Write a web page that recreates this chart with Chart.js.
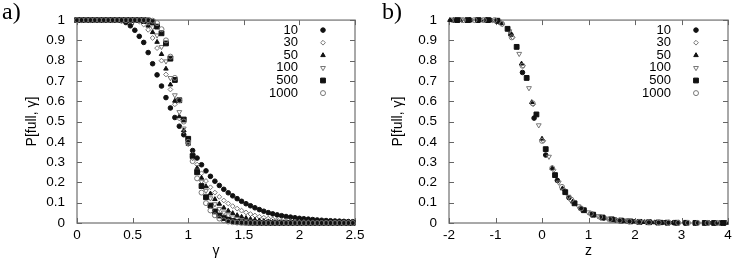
<!DOCTYPE html>
<html lang="en">
<head>
  <meta charset="UTF-8">
  <title>P[full, γ]</title>
  <script src="https://cdn.jsdelivr.net/npm/chart.js"></script>
  <style>
    body { margin: 0; background: #fff; }
    .wrap { position: relative; width: 747px; height: 263px; }
    canvas { position: absolute; top: 0; }
    #chartA { left: 0; }
    #chartB { left: 375px; }
    .tag { position: absolute; top: -2px; font-family: "Liberation Serif", serif; font-size: 24px; color: #000; }
  </style>
</head>
<body>
  <div class="wrap">
    <canvas id="chartA" width="375" height="263"></canvas>
    <canvas id="chartB" width="372" height="263"></canvas>
    <div class="tag" style="left:2px">a)</div>
    <div class="tag" style="left:382px">b)</div>
  </div>
  <script>
    // system sizes (legend labels)
    const sizes = ['10', '30', '50', '100', '500', '1000'];

    // panel a) : gamma grid shared by all series
    const gammaA = [0,0.04,0.08,0.12,0.16,0.2,0.24,0.28,0.32,0.36,
      0.4,0.44,0.48,0.52,0.56,0.6,0.64,0.68,0.72,0.76,
      0.8,0.84,0.88,0.92,0.96,1,1.04,1.08,1.12,1.16,
      1.2,1.24,1.28,1.32,1.36,1.4,1.44,1.48,1.52,1.56,
      1.6,1.64,1.68,1.72,1.76,1.8,1.84,1.88,1.92,1.96,
      2,2.04,2.08,2.12,2.16,2.2,2.24,2.28,2.32,2.36,
      2.4,2.44,2.48];

    const pA10 = [1,1,1,1,1,1,1,1,1,1,
      0.997,0.988,0.972,0.95,0.92,0.89,0.84,0.785,0.73,0.675,
      0.618,0.567,0.52,0.477,0.435,0.395,0.357,0.32,0.287,0.257,
      0.23,0.206,0.185,0.166,0.149,0.134,0.12,0.107,0.095,0.085,
      0.075,0.066,0.058,0.051,0.045,0.04,0.036,0.032,0.029,0.026,
      0.023,0.021,0.019,0.017,0.015,0.0135,0.012,0.011,0.01,0.009,
      0.008,0.0072,0.0065];
    const pA30 = [1,1,1,1,1,1,1,1,1,1,
      1,1,1,0.998,0.993,0.978,0.952,0.912,0.862,0.8,
      0.732,0.658,0.585,0.515,0.452,0.392,0.337,0.288,0.245,0.207,
      0.176,0.15,0.129,0.111,0.096,0.083,0.071,0.061,0.052,0.044,
      0.037,0.031,0.026,0.022,0.018,0.015,0.0125,0.0105,0.0088,0.0073,
      0.006,0.005,0.0042,0.0035,0.003,0.0025,0.002,0.0017,0.0014,0.0012,
      0.001,0.0008,0.0007];
    const pA50 = [1,1,1,1,1,1,1,1,1,1,
      1,1,1,1,0.997,0.99,0.972,0.94,0.892,0.832,
      0.76,0.682,0.602,0.525,0.456,0.39,0.327,0.271,0.222,0.18,
      0.145,0.117,0.094,0.075,0.06,0.048,0.038,0.03,0.024,0.019,
      0.015,0.012,0.0095,0.0075,0.006,0.0047,0.0037,0.0029,0.0023,0.0018,
      0.0014,0.0011,0.0009,0.0007,0.0005,0.0004,0.0003,0.0002,0.0002,0.0001,
      0.0001,0.0001,0];
    const pA100 = [1,1,1,1,1,1,1,1,1,1,
      1,1,1,1,1,0.997,0.988,0.965,0.925,0.868,
      0.797,0.715,0.63,0.547,0.466,0.39,0.32,0.258,0.204,0.159,
      0.122,0.093,0.07,0.052,0.038,0.028,0.02,0.0145,0.0105,0.0075,
      0.0053,0.0038,0.0027,0.0019,0.0013,0.0009,0.0006,0.0004,0.0003,0.0002,
      0.0001,0,0,0,0,0,0,0,0,0,
      0,0,0];
    const pA500 = [1,1,1,1,1,1,1,1,1,1,
      1,1,1,1,1,1,0.998,0.99,0.968,0.935,
      0.885,0.81,0.705,0.605,0.51,0.415,0.33,0.25,0.182,0.127,
      0.086,0.057,0.037,0.024,0.015,0.0095,0.006,0.0037,0.0023,0.0014,
      0.0009,0.0005,0.0003,0.0002,0.0001,0,0,0,0,0,
      0,0,0,0,0,0,0,0,0,0,
      0,0,0];
    const pA1000 = [1,1,1,1,1,1,1,1,1,1,
      1,1,1,1,1,1,1,0.997,0.985,0.955,
      0.9,0.82,0.715,0.605,0.5,0.4,0.305,0.22,0.15,0.098,
      0.062,0.038,0.022,0.013,0.0072,0.004,0.0021,0.0011,0.0006,0.0003,
      0.0001,0,0,0,0,0,0,0,0,0,
      0,0,0,0,0,0,0,0,0,0,
      0,0,0];

    // panel b) : scaled variable z, one grid per series
    const zB10 = [-1.9,-1.55,-1.2,-0.95,-0.67,-0.42,-0.17,0.08,0.33,0.58,0.83,1.08,1.33,1.58,1.83,2.08,2.33,2.58,2.83,3.08,3.33,3.58,3.83];
    const pB10 = [1,1,1,0.995,0.928,0.742,0.517,0.335,0.21,0.125,0.072,0.042,0.025,0.015,0.009,0.006,0.004,0.0025,0.0015,0.001,0.0007,0.0005,0.0003];
    const zB30 = [-1.95,-1.73,-1.51,-1.29,-1.07,-0.85,-0.63,-0.41,-0.19,0.03,0.25,0.47,0.69,0.91,1.13,1.35,1.57,1.79,2.01,2.23,2.45,2.67,2.89,3.11,3.33,3.55,3.77];
    const pB30 = [1,1,1,1,0.998,0.98,0.915,0.775,0.585,0.405,0.262,0.165,0.103,0.063,0.04,0.025,0.016,0.01,0.0065,0.004,0.0025,0.0016,0.001,0.0007,0.0005,0.0003,0.0002];
    const zB50 = [-1.98,-1.76,-1.54,-1.32,-1.1,-0.88,-0.66,-0.44,-0.22,0,0.22,0.44,0.66,0.88,1.1,1.32,1.54,1.76,1.98,2.2,2.42,2.64,2.86,3.08,3.3,3.52,3.74,3.96];
    const pB50 = [1,1,1,1,0.999,0.985,0.93,0.785,0.595,0.415,0.27,0.17,0.105,0.066,0.042,0.026,0.016,0.01,0.0065,0.004,0.0026,0.0016,0.001,0.0007,0.0004,0.0003,0.0002,0.0001];
    const zB100 = [-1.88,-1.64,-1.4,-1.16,-0.92,-0.7,-0.49,-0.28,-0.07,0.15,0.36,0.57,0.78,0.99,1.2,1.41,1.62,1.83,2.04,2.25,2.46,2.67,2.88,3.09,3.3,3.51,3.72,3.93];
    const pB100 = [1,1,1,1,0.993,0.945,0.834,0.665,0.482,0.327,0.2,0.13,0.083,0.053,0.034,0.022,0.014,0.009,0.006,0.004,0.0025,0.0016,0.001,0.0007,0.0005,0.0003,0.0002,0.0001];
    const zB500 = [-1.82,-1.6,-1.38,-1.16,-0.96,-0.74,-0.545,-0.33,-0.12,0.08,0.28,0.5,0.7,0.9,1.1,1.3,1.5,1.7,1.9,2.1,2.3,2.5,2.7,2.9,3.1,3.3,3.5,3.7,3.9];
    const pB500 = [1,1,1,1,0.997,0.957,0.868,0.715,0.535,0.364,0.236,0.152,0.097,0.063,0.041,0.027,0.018,0.012,0.008,0.0055,0.0037,0.0025,0.0017,0.0012,0.0008,0.0005,0.0003,0.0002,0.0001];
    const zB1000 = [-1.7,-1.45,-1.25,-1.02,-0.86,-0.65,-0.42,-0.2,0,0.22,0.43,0.63,0.84,1.05,1.25,1.46,1.67,1.88,2.09,2.3,2.51,2.72,2.93,3.14,3.35,3.56,3.77];
    const pB1000 = [1,1,1,1,0.982,0.915,0.775,0.59,0.405,0.27,0.178,0.115,0.072,0.046,0.03,0.019,0.012,0.008,0.005,0.0033,0.0022,0.0014,0.0009,0.0006,0.0004,0.0002,0.0001];

    // tick labels
    const gammaTicks = [0, 0.5, 1, 1.5, 2, 2.5];
    const zTicks = [-2, -1, 0, 1, 2, 3, 4];
    const pTicks = [0, 0.1, 0.2, 0.3, 0.4, 0.5, 0.6, 0.7, 0.8, 0.9, 1];

    // gnuplot-like point types
    const markers = [
      { style: 'circle',   r: 2.3, fill: '#111', line: '#111', rot: 0 },
      { style: 'rectRot',  r: 2.4, fill: 'rgba(0,0,0,0)', line: '#777', rot: 0 },
      { style: 'triangle', r: 2.6, fill: '#111', line: '#111', rot: 0 },
      { style: 'triangle', r: 2.8, fill: 'rgba(0,0,0,0)', line: '#777', rot: 180 },
      { style: 'rect',     r: 3.4, fill: '#111', line: '#111', rot: 0 },
      { style: 'circle',   r: 2.5, fill: 'rgba(0,0,0,0)', line: '#777', rot: 0 }
    ];

    const FONT = 'Liberation Sans';

    // frame + inward ticks drawn under the points, key drawn on top
    const gnuFrame = {
      id: 'gnuFrame',
      beforeDatasetsDraw(chart) {
        const { ctx, chartArea: a, scales: { x, y } } = chart;
        ctx.save();
        ctx.strokeStyle = '#8c8c8c';
        ctx.lineWidth = 1.5;
        ctx.strokeRect(a.left, a.top, a.right - a.left, a.bottom - a.top);
        ctx.lineWidth = 1;
        ctx.strokeStyle = '#666';
        ctx.beginPath();
        x.ticks.forEach(t => {
          const px = Math.round(x.getPixelForValue(t.value)) + 0.5;
          ctx.moveTo(px, a.bottom); ctx.lineTo(px, a.bottom - 5);
          ctx.moveTo(px, a.top); ctx.lineTo(px, a.top + 5);
        });
        y.ticks.forEach(t => {
          const py = Math.round(y.getPixelForValue(t.value)) + 0.5;
          ctx.moveTo(a.left, py); ctx.lineTo(a.left + 5, py);
          ctx.moveTo(a.right, py); ctx.lineTo(a.right - 5, py);
        });
        ctx.stroke();
        ctx.restore();
      },
      afterDraw(chart) {
        const { ctx, chartArea: a } = chart;
        ctx.save();
        chart.data.datasets.forEach((ds, i) => {
          const ty = a.top + 10 + i * 12.6;
          ctx.fillStyle = '#000';
          ctx.font = '13px "' + FONT + '"';
          ctx.textAlign = 'right';
          ctx.textBaseline = 'middle';
          ctx.fillText(ds.label, a.right - 57, ty);
          ctx.fillStyle = ds.pointBackgroundColor;
          ctx.strokeStyle = ds.pointBorderColor;
          ctx.lineWidth = 1;
          Chart.helpers.drawPoint(ctx, {
            pointStyle: ds.pointStyle, radius: ds.pointRadius,
            rotation: ds.pointRotation, borderWidth: 1
          }, a.right - 32, ty);
        });
        ctx.restore();
      }
    };

    function makeChart(id, xs, ys, xMin, xMax, xTickVals, xTitle, yWidth, yTitlePad, rightPad) {
      const datasets = sizes.map((s, i) => ({
        label: s,
        data: xs[i].map((v, j) => ({ x: v, y: ys[i][j] })),
        pointStyle: markers[i].style,
        pointRadius: markers[i].r,
        pointBackgroundColor: markers[i].fill,
        pointBorderColor: markers[i].line,
        pointBorderWidth: 1,
        pointRotation: markers[i].rot,
        showLine: false,
        order: sizes.length - 1 - i,
        clip: false
      }));
      return new Chart(document.getElementById(id), {
        type: 'scatter',
        data: { datasets },
        options: {
          responsive: false,
          animation: false,
          devicePixelRatio: 1,
          layout: { padding: { top: 15, right: rightPad, left: 0, bottom: 0 } },
          plugins: { legend: { display: false }, tooltip: { enabled: false } },
          scales: {
            x: {
              type: 'linear', min: xMin, max: xMax,
              afterBuildTicks: sc => { sc.ticks = xTickVals.map(v => ({ value: v })); },
              afterFit: sc => { sc.height = 40; },
              grid: { display: false, drawTicks: false }, border: { display: false },
              ticks: { padding: 4, color: '#000', autoSkip: false, maxRotation: 0,
                       font: { family: FONT, size: 13.5 }, callback: v => String(v) },
              title: { display: true, text: xTitle, color: '#000',
                       font: { family: FONT, size: 14 }, padding: { top: 0, bottom: 3 } }
            },
            y: {
              type: 'linear', min: 0, max: 1,
              afterBuildTicks: sc => { sc.ticks = pTicks.map(v => ({ value: v })); },
              afterFit: sc => { sc.width = yWidth; },
              grid: { display: false, drawTicks: false }, border: { display: false },
              ticks: { padding: 12, color: '#000', autoSkip: false,
                       font: { family: FONT, size: 13.5 }, callback: v => String(v) },
              title: { display: true, text: 'P[full, γ]', color: '#000',
                       font: { family: FONT, size: 14 }, padding: { top: yTitlePad, bottom: 0 } }
            }
          }
        },
        plugins: [gnuFrame]
      });
    }

    makeChart('chartA',
      [gammaA, gammaA, gammaA, gammaA, gammaA, gammaA],
      [pA10, pA30, pA50, pA100, pA500, pA1000],
      0, 2.5, gammaTicks, 'γ', 77, 24, 20);

    makeChart('chartB',
      [zB10, zB30, zB50, zB100, zB500, zB1000],
      [pB10, pB30, pB50, pB100, pB500, pB1000],
      -2, 4, zTicks, 'z', 74, 15, 19);
  </script>
</body>
</html>
